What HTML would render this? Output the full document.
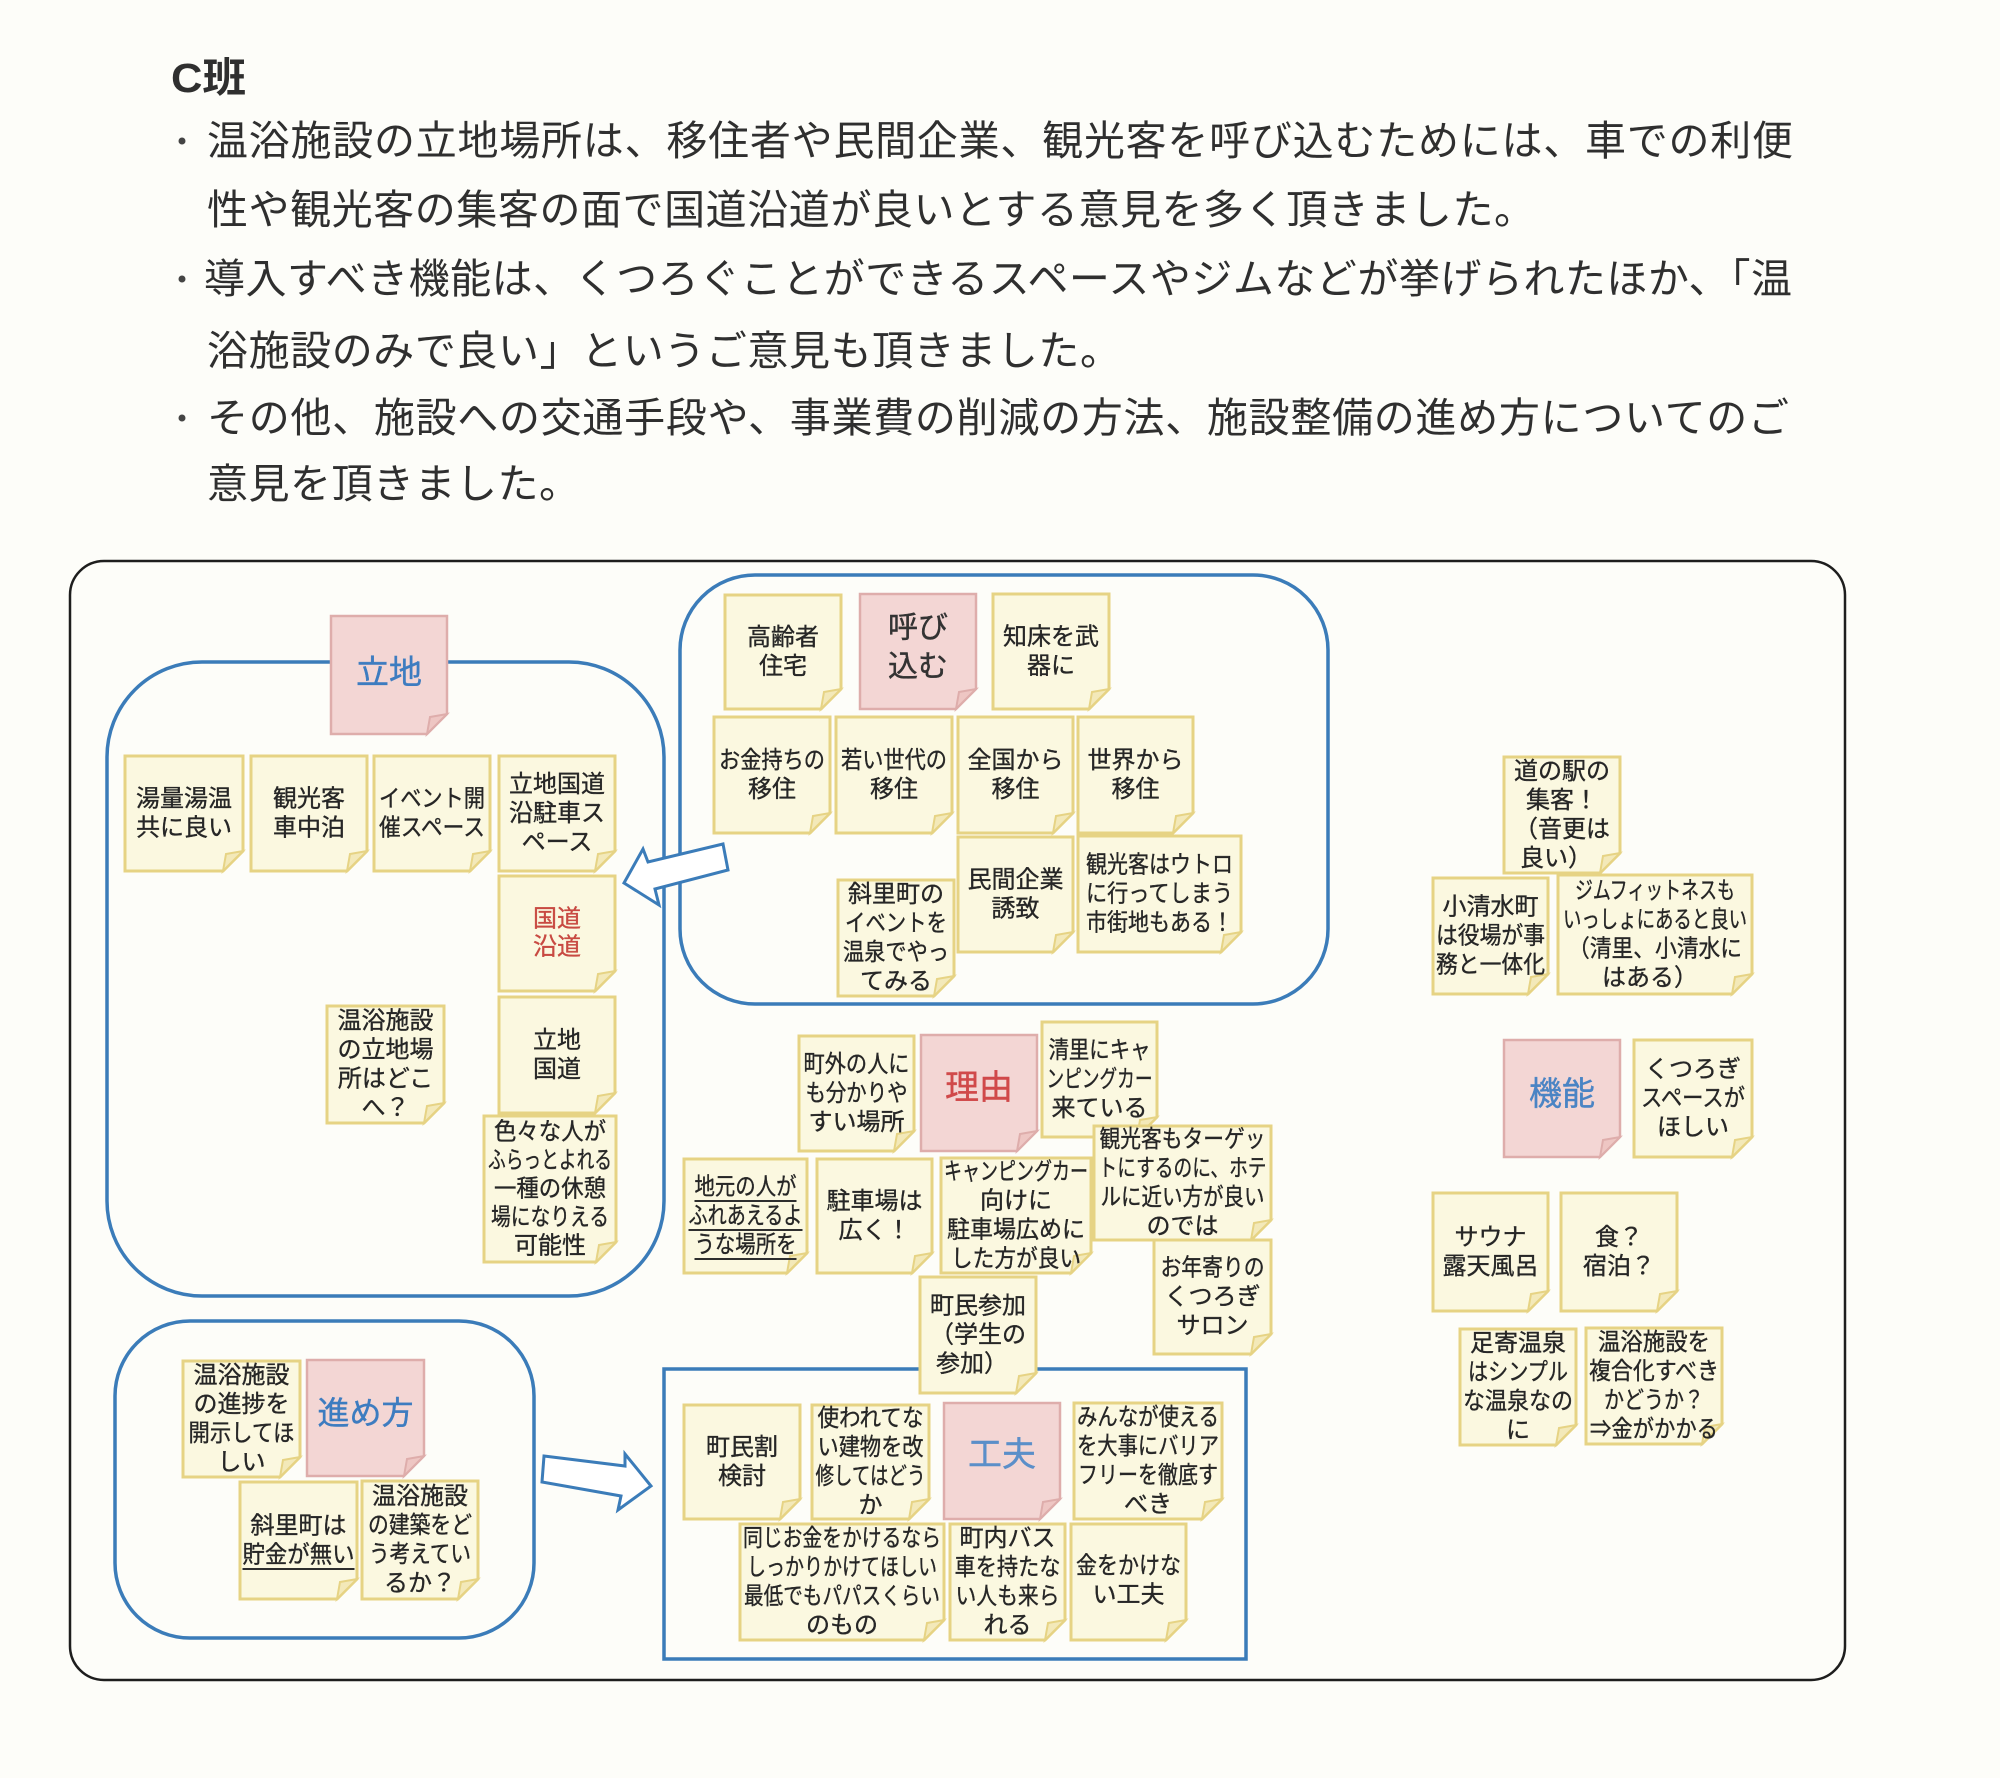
<!DOCTYPE html>
<html><head><meta charset="utf-8">
<style>
html,body{margin:0;padding:0;background:#fdfdf9;}
svg{display:block;}
.h{font-family:"Liberation Sans","Noto Sans CJK JP",sans-serif;font-size:41px;fill:#2f2f2f;dominant-baseline:central;}
.t{font-family:"Liberation Sans","Noto Sans CJK JP",sans-serif;font-size:24px;fill:#262626;stroke:#262626;stroke-width:0.35;text-anchor:middle;dominant-baseline:central;}
.tt{font-family:"Liberation Sans","Noto Sans CJK JP",sans-serif;text-anchor:middle;dominant-baseline:central;stroke-width:0.4;}
.y{fill:#fbf8e0;stroke:#e6d384;stroke-width:3;}
.yf{fill:#f3e9b9;stroke:#e6d384;stroke-width:2;}
.p{fill:#f3d6d4;stroke:#deadab;stroke-width:2.5;}
.pf{fill:#eec6c3;stroke:#deadab;stroke-width:2;}
.g{fill:none;stroke:#3b7cb9;stroke-width:3.5;}
.ul{stroke:#2e2e2e;stroke-width:2;}
</style></head>
<body>
<svg width="2000" height="1778" viewBox="0 0 2000 1778" xmlns="http://www.w3.org/2000/svg">
<rect x="0" y="0" width="2000" height="1778" fill="#fdfdf9"/>

<!-- Header -->
<text class="h" x="171" y="78" textLength="75" lengthAdjust="spacingAndGlyphs" style="font-weight:bold">C班</text>
<circle cx="182" cy="141" r="3.5" fill="#444"/>
<circle cx="182" cy="279" r="3.5" fill="#444"/>
<circle cx="182" cy="418" r="3.5" fill="#444"/>
<text class="h" x="207" y="141" textLength="1586" lengthAdjust="spacing">温浴施設の立地場所は、移住者や民間企業、観光客を呼び込むためには、車での利便</text>
<text class="h" x="207" y="210" textLength="1328" lengthAdjust="spacing">性や観光客の集客の面で国道沿道が良いとする意見を多く頂きました。</text>
<text class="h" x="204" y="279" textLength="1588" lengthAdjust="spacing">導入すべき機能は、くつろぐことができるスペースやジムなどが挙げられたほか、「温</text>
<text class="h" x="207" y="351" textLength="914" lengthAdjust="spacing">浴施設のみで良い」というご意見も頂きました。</text>
<text class="h" x="207" y="418" textLength="1582" lengthAdjust="spacing">その他、施設への交通手段や、事業費の削減の方法、施設整備の進め方についてのご</text>
<text class="h" x="207" y="484" textLength="373" lengthAdjust="spacing">意見を頂きました。</text>

<!-- Outer frame -->
<rect x="70" y="561" width="1775" height="1119" rx="34" ry="34" fill="none" stroke="#1e1e1e" stroke-width="2.5"/>

<!-- Groups -->
<rect class="g" x="107" y="662" width="557" height="634" rx="95" ry="95"/>
<rect class="g" x="680" y="575" width="648" height="429" rx="75" ry="75"/>
<rect class="g" x="115" y="1321" width="419" height="317" rx="75" ry="75"/>
<rect class="g" x="664" y="1369" width="582" height="290"/>

<!-- Arrows -->
<polygon points="624,883 643,849 648,862 723,844 728,870 655,889 659,905" fill="#fff" stroke="#3b7cb9" stroke-width="3" stroke-linejoin="miter"/>
<polygon points="544,1456 625,1466 625,1454 651,1486 618,1510 621,1496 542,1482" fill="#fff" stroke="#3b7cb9" stroke-width="3" stroke-linejoin="miter"/>

<!-- ===== 立地 ===== -->
<g transform="translate(331,616)"><path class="p" d="M0 0H116V98L96 118H0Z"/><path class="pf" d="M116 98L96 118L99 101Z"/>
<text class="tt" x="58" y="56" font-size="33" fill="#3d7cc0" stroke="#3d7cc0">立地</text></g>

<g transform="translate(125,756)"><path class="y" d="M0 0H118V95L98 115H0Z"/><path class="yf" d="M118 95L98 115L101 98Z"/>
<text class="t" x="59" y="43">湯量湯温</text><text class="t" x="59" y="72">共に良い</text></g>

<g transform="translate(251,756)"><path class="y" d="M0 0H116V95L96 115H0Z"/><path class="yf" d="M116 95L96 115L99 98Z"/>
<text class="t" x="58" y="43">観光客</text><text class="t" x="58" y="72">車中泊</text></g>

<g transform="translate(374,756)"><path class="y" d="M0 0H116V95L96 115H0Z"/><path class="yf" d="M116 95L96 115L99 98Z"/>
<text class="t" x="58" y="43" textLength="106" lengthAdjust="spacingAndGlyphs">イベント開</text><text class="t" x="58" y="72" textLength="106" lengthAdjust="spacingAndGlyphs">催スペース</text></g>

<g transform="translate(499,756)"><path class="y" d="M0 0H116V95L96 115H0Z"/><path class="yf" d="M116 95L96 115L99 98Z"/>
<text class="t" x="58" y="28.5">立地国道</text><text class="t" x="58" y="57.5">沿駐車ス</text><text class="t" x="58" y="86.5">ペース</text></g>

<g transform="translate(499,876)"><path class="y" d="M0 0H116V95L96 115H0Z"/><path class="yf" d="M116 95L96 115L99 98Z"/>
<text class="t" x="58" y="43" style="fill:#c84a42;stroke:#c84a42">国道</text><text class="t" x="58" y="71" style="fill:#c84a42;stroke:#c84a42">沿道</text></g>

<g transform="translate(499,997)"><path class="y" d="M0 0H116V96L96 116H0Z"/><path class="yf" d="M116 96L96 116L99 99Z"/>
<text class="t" x="58" y="43.5">立地</text><text class="t" x="58" y="72.5">国道</text></g>

<g transform="translate(327,1006)"><path class="y" d="M0 0H117V97L97 117H0Z"/><path class="yf" d="M117 97L97 117L100 100Z"/>
<text class="t" x="58.5" y="15">温浴施設</text><text class="t" x="58.5" y="44">の立地場</text><text class="t" x="58.5" y="73">所はどこ</text><text class="t" x="58.5" y="102">へ？</text></g>

<g transform="translate(484,1116)"><path class="y" d="M0 0H132V126L112 146H0Z"/><path class="yf" d="M132 126L112 146L115 129Z"/>
<text class="t" x="66" y="16" textLength="112" lengthAdjust="spacingAndGlyphs">色々な人が</text>
<text class="t" x="66" y="44.5" textLength="124" lengthAdjust="spacingAndGlyphs">ふらっとよれる</text>
<text class="t" x="66" y="73" textLength="112" lengthAdjust="spacingAndGlyphs">一種の休憩</text>
<text class="t" x="66" y="101.5" textLength="118" lengthAdjust="spacingAndGlyphs">場になりえる</text>
<text class="t" x="66" y="130">可能性</text></g>

<!-- ===== 呼び込む ===== -->
<g transform="translate(725,595)"><path class="y" d="M0 0H116V94L96 114H0Z"/><path class="yf" d="M116 94L96 114L99 97Z"/>
<text class="t" x="58" y="42.5">高齢者</text><text class="t" x="58" y="71.5">住宅</text></g>

<g transform="translate(860,594)"><path class="p" d="M0 0H116V95L96 115H0Z"/><path class="pf" d="M116 95L96 115L99 98Z"/>
<text class="tt" x="58" y="34" font-size="30" fill="#333" stroke="#333">呼び</text><text class="tt" x="58" y="73" font-size="30" fill="#333" stroke="#333">込む</text></g>

<g transform="translate(993,594)"><path class="y" d="M0 0H116V95L96 115H0Z"/><path class="yf" d="M116 95L96 115L99 98Z"/>
<text class="t" x="58" y="43">知床を武</text><text class="t" x="58" y="72">器に</text></g>

<g transform="translate(714,717)"><path class="y" d="M0 0H116V96L96 116H0Z"/><path class="yf" d="M116 96L96 116L99 99Z"/>
<text class="t" x="58" y="43.5" textLength="106" lengthAdjust="spacingAndGlyphs">お金持ちの</text><text class="t" x="58" y="72.5">移住</text></g>

<g transform="translate(836,717)"><path class="y" d="M0 0H116V96L96 116H0Z"/><path class="yf" d="M116 96L96 116L99 99Z"/>
<text class="t" x="58" y="43.5" textLength="106" lengthAdjust="spacingAndGlyphs">若い世代の</text><text class="t" x="58" y="72.5">移住</text></g>

<g transform="translate(958,717)"><path class="y" d="M0 0H115V96L95 116H0Z"/><path class="yf" d="M115 96L95 116L98 99Z"/>
<text class="t" x="57.5" y="43.5">全国から</text><text class="t" x="57.5" y="72.5">移住</text></g>

<g transform="translate(1078,717)"><path class="y" d="M0 0H115V96L95 116H0Z"/><path class="yf" d="M115 96L95 116L98 99Z"/>
<text class="t" x="57.5" y="43.5">世界から</text><text class="t" x="57.5" y="72.5">移住</text></g>

<g transform="translate(958,837)"><path class="y" d="M0 0H115V95L95 115H0Z"/><path class="yf" d="M115 95L95 115L98 98Z"/>
<text class="t" x="57.5" y="43">民間企業</text><text class="t" x="57.5" y="72">誘致</text></g>

<g transform="translate(1078,836)"><path class="y" d="M0 0H163V96L143 116H0Z"/><path class="yf" d="M163 96L143 116L146 99Z"/>
<text class="t" x="81.5" y="29" textLength="147" lengthAdjust="spacingAndGlyphs">観光客はウトロ</text>
<text class="t" x="81.5" y="58" textLength="147" lengthAdjust="spacingAndGlyphs">に行ってしまう</text>
<text class="t" x="81.5" y="87" textLength="147" lengthAdjust="spacingAndGlyphs">市街地もある！</text></g>

<g transform="translate(838,880)"><path class="y" d="M0 0H116V96L96 116H0Z"/><path class="yf" d="M116 96L96 116L99 99Z"/>
<text class="t" x="58" y="14.5">斜里町の</text>
<text class="t" x="58" y="43.5" textLength="102" lengthAdjust="spacingAndGlyphs">イベントを</text>
<text class="t" x="58" y="72.5" textLength="106" lengthAdjust="spacingAndGlyphs">温泉でやっ</text>
<text class="t" x="58" y="101.5">てみる</text></g>

<!-- ===== 理由 ===== -->
<g transform="translate(799,1036)"><path class="y" d="M0 0H115V95L95 115H0Z"/><path class="yf" d="M115 95L95 115L98 98Z"/>
<text class="t" x="57.5" y="28.5" textLength="106" lengthAdjust="spacingAndGlyphs">町外の人に</text>
<text class="t" x="57.5" y="57.5" textLength="102" lengthAdjust="spacingAndGlyphs">も分かりや</text>
<text class="t" x="57.5" y="86.5">すい場所</text></g>

<g transform="translate(921,1035)"><path class="p" d="M0 0H116V96L96 116H0Z"/><path class="pf" d="M116 96L96 116L99 99Z"/>
<text class="tt" x="58" y="53" font-size="34" fill="#d0494a" stroke="#d0494a">理由</text></g>

<g transform="translate(1042,1022)"><path class="y" d="M0 0H115V95L95 115H0Z"/><path class="yf" d="M115 95L95 115L98 98Z"/>
<text class="t" x="57.5" y="28.5" textLength="102" lengthAdjust="spacingAndGlyphs">清里にキャ</text>
<text class="t" x="57.5" y="57.5" textLength="106" lengthAdjust="spacingAndGlyphs">ンピングカー</text>
<text class="t" x="57.5" y="86.5">来ている</text></g>

<g transform="translate(1094,1126)"><path class="y" d="M0 0H177V94L157 114H0Z"/><path class="yf" d="M177 94L157 114L160 97Z"/>
<text class="t" x="88.5" y="13.5" textLength="166" lengthAdjust="spacingAndGlyphs">観光客もターゲッ</text>
<text class="t" x="88.5" y="42.5" textLength="168" lengthAdjust="spacingAndGlyphs">トにするのに、ホテ</text>
<text class="t" x="88.5" y="71.5" textLength="164" lengthAdjust="spacingAndGlyphs">ルに近い方が良い</text>
<text class="t" x="88.5" y="100.5">のでは</text></g>

<g transform="translate(684,1159)"><path class="y" d="M0 0H123V94L103 114H0Z"/><path class="yf" d="M123 94L103 114L106 97Z"/>
<text class="t" x="61.5" y="28" textLength="102" lengthAdjust="spacingAndGlyphs">地元の人が</text>
<text class="t" x="61.5" y="57" textLength="114" lengthAdjust="spacingAndGlyphs">ふれあえるよ</text>
<text class="t" x="61.5" y="86" textLength="102" lengthAdjust="spacingAndGlyphs">うな場所を</text>
<line class="ul" x1="10.5" y1="42" x2="112.5" y2="42"/>
<line class="ul" x1="4.5" y1="71" x2="118.5" y2="71"/>
<line class="ul" x1="10.5" y1="100" x2="112.5" y2="100"/></g>

<g transform="translate(817,1159)"><path class="y" d="M0 0H115V94L95 114H0Z"/><path class="yf" d="M115 94L95 114L98 97Z"/>
<text class="t" x="57.5" y="42.5">駐車場は</text><text class="t" x="57.5" y="71.5">広く！</text></g>

<g transform="translate(941,1158)"><path class="y" d="M0 0H150V95L130 115H0Z"/><path class="yf" d="M150 95L130 115L133 98Z"/>
<text class="t" x="75" y="14" textLength="144" lengthAdjust="spacingAndGlyphs">キャンピングカー</text>
<text class="t" x="75" y="43">向けに</text>
<text class="t" x="75" y="72" textLength="138" lengthAdjust="spacingAndGlyphs">駐車場広めに</text>
<text class="t" x="75" y="101" textLength="130" lengthAdjust="spacingAndGlyphs">した方が良い</text></g>

<g transform="translate(1154,1240)"><path class="y" d="M0 0H117V94L97 114H0Z"/><path class="yf" d="M117 94L97 114L100 97Z"/>
<text class="t" x="58.5" y="28" textLength="104" lengthAdjust="spacingAndGlyphs">お年寄りの</text>
<text class="t" x="58.5" y="57">くつろぎ</text>
<text class="t" x="58.5" y="86">サロン</text></g>

<g transform="translate(920,1277)"><path class="y" d="M0 0H116V96L96 116H0Z"/><path class="yf" d="M116 96L96 116L99 99Z"/>
<text class="t" x="58" y="29">町民参加</text>
<text class="t" x="58" y="58">（学生の</text>
<text class="t" x="52" y="87">参加）</text></g>

<!-- ===== 工夫 ===== -->
<g transform="translate(684,1405)"><path class="y" d="M0 0H116V94L96 114H0Z"/><path class="yf" d="M116 94L96 114L99 97Z"/>
<text class="t" x="58" y="42.5">町民割</text><text class="t" x="58" y="71.5">検討</text></g>

<g transform="translate(812,1405)"><path class="y" d="M0 0H117V94L97 114H0Z"/><path class="yf" d="M117 94L97 114L100 97Z"/>
<text class="t" x="58.5" y="13.5" textLength="106" lengthAdjust="spacingAndGlyphs">使われてな</text>
<text class="t" x="58.5" y="42.5" textLength="106" lengthAdjust="spacingAndGlyphs">い建物を改</text>
<text class="t" x="58.5" y="71.5" textLength="110" lengthAdjust="spacingAndGlyphs">修してはどう</text>
<text class="t" x="58.5" y="100.5">か</text></g>

<g transform="translate(944,1403)"><path class="p" d="M0 0H116V96L96 116H0Z"/><path class="pf" d="M116 96L96 116L99 99Z"/>
<text class="tt" x="58" y="52" font-size="34" fill="#5b8fc9" stroke="#5b8fc9">工夫</text></g>

<g transform="translate(1074,1403)"><path class="y" d="M0 0H148V96L128 116H0Z"/><path class="yf" d="M148 96L128 116L131 99Z"/>
<text class="t" x="74" y="14.5" textLength="142" lengthAdjust="spacingAndGlyphs">みんなが使える</text>
<text class="t" x="74" y="43.5" textLength="142" lengthAdjust="spacingAndGlyphs">を大事にバリア</text>
<text class="t" x="74" y="72.5" textLength="140" lengthAdjust="spacingAndGlyphs">フリーを徹底す</text>
<text class="t" x="74" y="101.5">べき</text></g>

<g transform="translate(740,1524)"><path class="y" d="M0 0H204V96L184 116H0Z"/><path class="yf" d="M204 96L184 116L187 99Z"/>
<text class="t" x="102" y="14.5" textLength="198" lengthAdjust="spacingAndGlyphs">同じお金をかけるなら</text>
<text class="t" x="102" y="43.5" textLength="190" lengthAdjust="spacingAndGlyphs">しっかりかけてほしい</text>
<text class="t" x="102" y="72.5" textLength="196" lengthAdjust="spacingAndGlyphs">最低でもパパスくらい</text>
<text class="t" x="102" y="101.5">のもの</text></g>

<g transform="translate(950,1524)"><path class="y" d="M0 0H115V96L95 116H0Z"/><path class="yf" d="M115 96L95 116L98 99Z"/>
<text class="t" x="57.5" y="14.5">町内バス</text>
<text class="t" x="57.5" y="43.5" textLength="106" lengthAdjust="spacingAndGlyphs">車を持たな</text>
<text class="t" x="57.5" y="72.5" textLength="104" lengthAdjust="spacingAndGlyphs">い人も来ら</text>
<text class="t" x="57.5" y="101.5">れる</text></g>

<g transform="translate(1071,1524)"><path class="y" d="M0 0H115V96L95 116H0Z"/><path class="yf" d="M115 96L95 116L98 99Z"/>
<text class="t" x="57.5" y="42" textLength="105" lengthAdjust="spacingAndGlyphs">金をかけな</text>
<text class="t" x="57.5" y="71">い工夫</text></g>

<!-- ===== 進め方 ===== -->
<g transform="translate(183,1361)"><path class="y" d="M0 0H117V96L97 116H0Z"/><path class="yf" d="M117 96L97 116L100 99Z"/>
<text class="t" x="58.5" y="14.5">温浴施設</text>
<text class="t" x="58.5" y="43.5">の進捗を</text>
<text class="t" x="58.5" y="72.5" textLength="106" lengthAdjust="spacingAndGlyphs">開示してほ</text>
<text class="t" x="58.5" y="101.5">しい</text></g>

<g transform="translate(307,1360)"><path class="p" d="M0 0H117V96L97 116H0Z"/><path class="pf" d="M117 96L97 116L100 99Z"/>
<text class="tt" x="58.5" y="53" font-size="32" fill="#3d7cc0" stroke="#3d7cc0">進め方</text></g>

<g transform="translate(240,1482)"><path class="y" d="M0 0H117V97L97 117H0Z"/><path class="yf" d="M117 97L97 117L100 100Z"/>
<text class="t" x="58.5" y="44">斜里町は</text>
<text class="t" x="58.5" y="73" textLength="112" lengthAdjust="spacingAndGlyphs">貯金が無い</text>
<line class="ul" x1="2.5" y1="87" x2="114.5" y2="87"/></g>

<g transform="translate(362,1481)"><path class="y" d="M0 0H116V98L96 118H0Z"/><path class="yf" d="M116 98L96 118L99 101Z"/>
<text class="t" x="58" y="15.5">温浴施設</text>
<text class="t" x="58" y="44.5" textLength="104" lengthAdjust="spacingAndGlyphs">の建築をど</text>
<text class="t" x="58" y="73.5" textLength="102" lengthAdjust="spacingAndGlyphs">う考えてい</text>
<text class="t" x="58" y="102.5">るか？</text></g>

<!-- ===== 機能 ===== -->
<g transform="translate(1504,757)"><path class="y" d="M0 0H116V96L96 116H0Z"/><path class="yf" d="M116 96L96 116L99 99Z"/>
<text class="t" x="58" y="14.5">道の駅の</text>
<text class="t" x="58" y="43.5">集客！</text>
<text class="t" x="58" y="72.5">（音更は</text>
<text class="t" x="52" y="101.5">良い）</text></g>

<g transform="translate(1433,878)"><path class="y" d="M0 0H115V96L95 116H0Z"/><path class="yf" d="M115 96L95 116L98 99Z"/>
<text class="t" x="57.5" y="29">小清水町</text>
<text class="t" x="57.5" y="58" textLength="109" lengthAdjust="spacingAndGlyphs">は役場が事</text>
<text class="t" x="57.5" y="87" textLength="109" lengthAdjust="spacingAndGlyphs">務と一体化</text></g>

<g transform="translate(1558,875)"><path class="y" d="M0 0H194V99L174 119H0Z"/><path class="yf" d="M194 99L174 119L177 102Z"/>
<text class="t" x="97" y="16" textLength="160" lengthAdjust="spacingAndGlyphs">ジムフィットネスも</text>
<text class="t" x="97" y="45" textLength="184" lengthAdjust="spacingAndGlyphs">いっしょにあると良い</text>
<text class="t" x="97" y="74" textLength="174" lengthAdjust="spacingAndGlyphs">（清里、小清水に</text>
<text class="t" x="92" y="103">はある）</text></g>

<g transform="translate(1504,1040)"><path class="p" d="M0 0H116V97L96 117H0Z"/><path class="pf" d="M116 97L96 117L99 100Z"/>
<text class="tt" x="58" y="53.5" font-size="33" fill="#4a84c4" stroke="#4a84c4">機能</text></g>

<g transform="translate(1634,1040)"><path class="y" d="M0 0H118V97L98 117H0Z"/><path class="yf" d="M118 97L98 117L101 100Z"/>
<text class="t" x="59" y="29.5">くつろぎ</text>
<text class="t" x="59" y="58.5" textLength="104" lengthAdjust="spacingAndGlyphs">スペースが</text>
<text class="t" x="59" y="87.5">ほしい</text></g>

<g transform="translate(1433,1193)"><path class="y" d="M0 0H115V98L95 118H0Z"/><path class="yf" d="M115 98L95 118L98 101Z"/>
<text class="t" x="57.5" y="44.5">サウナ</text><text class="t" x="57.5" y="73.5">露天風呂</text></g>

<g transform="translate(1561,1193)"><path class="y" d="M0 0H116V98L96 118H0Z"/><path class="yf" d="M116 98L96 118L99 101Z"/>
<text class="t" x="58" y="44.5">食？</text><text class="t" x="58" y="73.5">宿泊？</text></g>

<g transform="translate(1460,1329)"><path class="y" d="M0 0H116V96L96 116H0Z"/><path class="yf" d="M116 96L96 116L99 99Z"/>
<text class="t" x="58" y="14.5">足寄温泉</text>
<text class="t" x="58" y="43.5" textLength="100" lengthAdjust="spacingAndGlyphs">はシンプル</text>
<text class="t" x="58" y="72.5" textLength="110" lengthAdjust="spacingAndGlyphs">な温泉なの</text>
<text class="t" x="58" y="101.5">に</text></g>

<g transform="translate(1586,1328)"><path class="y" d="M0 0H136V96L116 116H0Z"/><path class="yf" d="M136 96L116 116L119 99Z"/>
<text class="t" x="68" y="14.5" textLength="112" lengthAdjust="spacingAndGlyphs">温浴施設を</text>
<text class="t" x="68" y="43.5" textLength="130" lengthAdjust="spacingAndGlyphs">複合化すべき</text>
<text class="t" x="68" y="72.5" textLength="100" lengthAdjust="spacingAndGlyphs">かどうか？</text>
<text class="t" x="68" y="101.5" textLength="128" lengthAdjust="spacingAndGlyphs">⇒金がかかる</text></g>

</svg>
</body></html>
